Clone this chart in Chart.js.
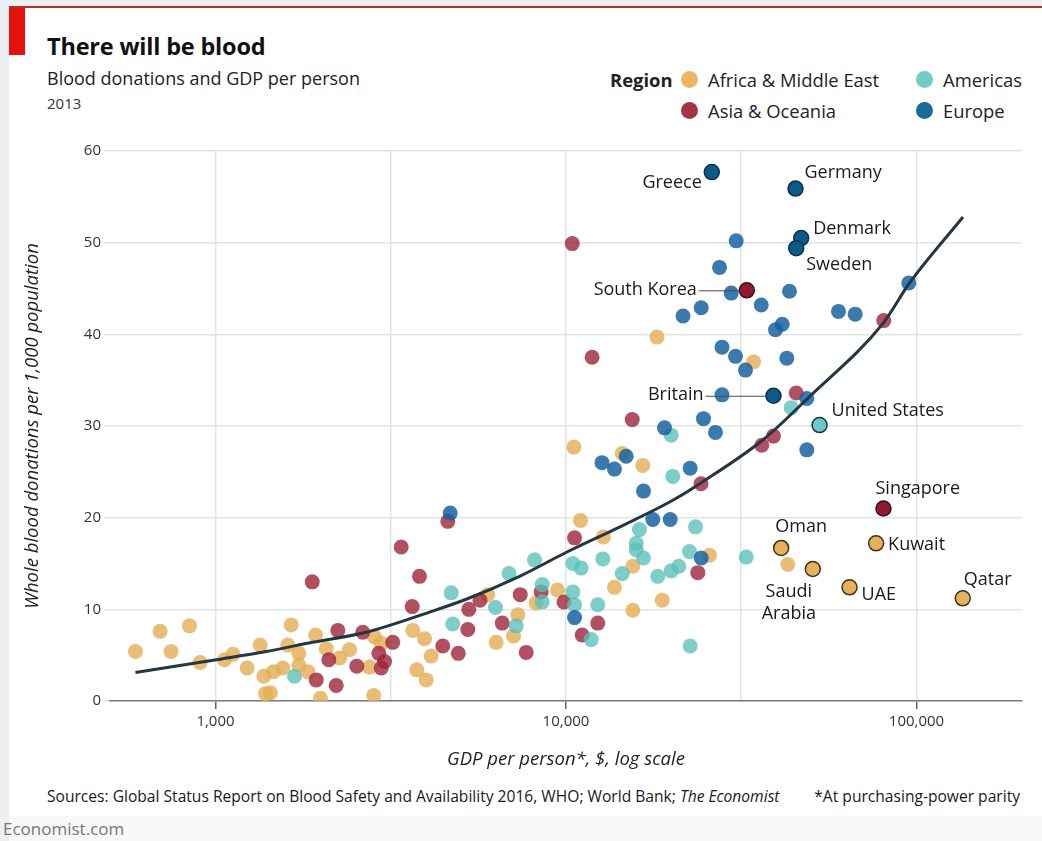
<!DOCTYPE html>
<html>
<head>
<meta charset="utf-8">
<script src="https://cdn.jsdelivr.net/npm/chart.js@4.4.1/dist/chart.umd.min.js"></script>
<style>
  html, body { margin:0; padding:0; }
  body { width:1042px; height:841px; background:#eceef2; font-family:"Open Sans", sans-serif; position:relative; overflow:hidden; color:#1a1a1a; }
  #card { position:absolute; left:9px; top:8px; width:1033px; height:808px; background:#fff; }
  #bottom { position:absolute; left:9px; top:816px; width:1033px; height:25px; background:#f8f8f8; }
  #topline { position:absolute; left:9px; top:6px; width:1033px; height:2px; background:#b3312c; }
  #redbox { position:absolute; left:9px; top:8px; width:16px; height:47px; background:#e3120b; }
  .txt { position:absolute; white-space:nowrap; }
  #title { left:47px; top:34px; font-size:23.5px; line-height:24px; font-weight:700; letter-spacing:-0.2px; color:#111; }
  #subtitle { left:47px; top:69px; font-size:18px; line-height:18px; color:#222; }
  #year { left:47px; top:96px; font-size:15px; line-height:15px; color:#333; }
  #legend .item { position:absolute; height:20px; display:flex; align-items:center; font-size:18.4px; color:#222; white-space:nowrap; }
  #legend .dot { width:17px; height:17px; border-radius:50%; margin-right:10px; display:inline-block; }
  #regionLbl { font-weight:700; }
  #sources { left:47px; top:786px; font-size:15.6px; line-height:20px; color:#1a1a1a; }
  #ppp { right:22px; top:786px; font-size:15.6px; line-height:20px; color:#1a1a1a; }
  #econ { left:3px; top:819px; font-size:17px; line-height:20px; color:#777; }
  #chart { position:absolute; left:0; top:0; }
</style>
</head>
<body>
<div id="card"></div>
<div id="bottom"></div>
<div id="topline"></div>
<div id="redbox"></div>
<div id="title" class="txt">There will be blood</div>
<div id="subtitle" class="txt">Blood donations and GDP per person</div>
<div id="year" class="txt">2013</div>
<div id="legend"></div>
<div id="sources" class="txt">Sources: Global Status Report on Blood Safety and Availability 2016, WHO; World Bank; <i>The Economist</i></div>
<div id="ppp" class="txt">*At purchasing-power parity</div>
<div id="econ" class="txt">Economist.com</div>
<canvas id="chart" width="1042" height="841"></canvas>
<script>
// ---------------- DATA ----------------
const regionNames = ['Africa & Middle East', 'Asia & Oceania', 'Americas', 'Europe'];

const africaGdp = [591,695,747,843,904,1061,1121,1231,1341,1373,1389,1435,1464,1556,1608,1644,1729,1729,1834,1930,1993,2070,2259,2412,2751,2842,2829,2971,3655,3948,3752,3992,4125,5982,6322,7287,7084,8222,9456,11000,12790,13750,15510,15510,18820,25670,10530,14470,16560,18180,34280,42940];
const africaDon = [5.4,7.6,5.4,8.2,4.2,4.5,5.1,3.6,6.1,2.7,0.8,0.9,3.2,3.6,6.1,8.3,5.2,3.9,3.2,7.2,0.3,5.7,4.7,5.6,3.7,7.0,0.6,6.3,7.7,6.8,3.4,2.3,4.9,11.6,6.4,9.4,7.1,10.7,12.1,19.7,17.9,12.4,14.7,9.9,11.0,15.9,27.7,27.0,25.7,39.7,37.0,14.9];

const asiaGdp = [4600,3387,1888,3819,3641,5281,5683,7403,8496,9870,2234,2632,3204,2924,3035,2971,2105,2530,1938,2210,4451,4928,5246,6577,7700,10580,12320,11120,23770,24280,11870,15450,10420,80660,45380,39080,36200];
const asiaDon = [19.6,16.8,13.0,13.6,10.3,10.0,11.0,11.6,11.9,10.8,7.7,7.5,6.4,5.2,4.3,3.6,4.5,3.8,2.3,1.7,6.0,5.2,7.8,8.5,5.3,17.8,8.5,7.2,14.0,23.7,37.5,30.7,49.9,41.5,33.6,28.9,27.9];

const amerGdp = [1680,4704,4754,6293,6877,7209,8131,8553,8553,10460,11050,12740,10460,10580,12320,11800,14470,16200,15860,15860,16640,18280,19960,20980,22510,23420,22610,19960,20170,32670,43910];
const amerDon = [2.7,11.8,8.4,10.2,13.9,8.2,15.4,12.7,10.8,15.0,14.5,15.5,11.9,10.5,10.5,6.7,13.9,18.7,17.2,16.5,15.6,13.6,14.2,14.7,16.3,19.0,6.0,29.0,24.5,15.7,32.0];

const euroGdp = [4673,16640,17690,19830,10580,24310,21570,24310,27870,30450,32520,27870,24680,26700,19100,12670,13750,14850,22610,30590,27420,29600,43420,36060,59900,66860,95060,41390,39600,42660,48640,48640];
const euroDon = [20.5,22.9,19.8,19.8,9.1,15.6,42.0,42.9,38.6,37.6,36.1,33.4,30.8,29.3,29.8,26.0,25.3,26.7,25.4,50.2,47.3,44.5,44.7,43.2,42.5,42.2,45.6,41.1,40.5,37.4,33.0,27.4];

const labelNames  = ['Greece','Germany','Denmark','Sweden','South Korea','Britain','United States','Singapore','Oman','Kuwait','Saudi Arabia','UAE','Qatar'];
const labelRegion = ['Europe','Europe','Europe','Europe','Asia & Oceania','Europe','Americas','Asia & Oceania','Africa & Middle East','Africa & Middle East','Africa & Middle East','Africa & Middle East','Africa & Middle East'];
const labelGdp    = [26060,45170,46880,45380,32800,39080,52900,80500,41110,76700,50600,64400,135500];
const labelDon    = [57.7,55.9,50.5,49.4,44.8,33.3,30.1,21.0,16.7,17.2,14.4,12.4,11.2];

const trendGdp = [591,1005,1395,1891,2690,4080,5190,7370,10000,14250,20170,24500,36500,49500,80260,95500,135700];
const trendDon = [3.1,4.5,5.4,6.4,7.5,9.7,11.1,13.6,16.2,19.0,21.9,23.9,28.5,33.2,41.2,45.6,52.8];

const xTickValues = [1000, 3162, 10000, 31623, 100000];
const xTickLabels = ['1,000', '', '10,000', '', '100,000'];
const yTickValues = [0, 10, 20, 30, 40, 50, 60];

// ---------------- STYLES ----------------
const regionFill = {
  'Africa & Middle East': 'rgba(228,172,84,0.80)',
  'Asia & Oceania': 'rgba(158,36,56,0.80)',
  'Americas': 'rgba(88,192,186,0.78)',
  'Europe': 'rgba(22,96,160,0.84)'
};
const legendColor = {
  'Africa & Middle East': '#e8b866',
  'Asia & Oceania': '#a73446',
  'Americas': '#74cbc6',
  'Europe': '#1b6a9c'
};
const highlightFill = {
  'Africa & Middle East': '#e5b25a',
  'Asia & Oceania': '#8e1c31',
  'Americas': '#6ccac4',
  'Europe': '#0c5a87'
};
const highlightBorder = {
  'Africa & Middle East': '#3a3122',
  'Asia & Oceania': '#3f0c16',
  'Americas': '#1c3535',
  'Europe': '#06344f'
};
// label placement (pixel offsets from the point)
const labelPlace = {
  'Greece':        {dx:-10, dy:11, align:'right'},
  'Germany':       {dx:9,   dy:-16, align:'left'},
  'Denmark':       {dx:12,  dy:-9, align:'left'},
  'Sweden':        {dx:10,  dy:17, align:'left'},
  'South Korea':   {dx:-50, dy:0, align:'right', lead:[-48,-8]},
  'Britain':       {dx:-70, dy:-1, align:'right', lead:[-68,-8]},
  'United States': {dx:12,  dy:-14, align:'left'},
  'Singapore':     {dx:-8,  dy:-20, align:'left'},
  'Oman':          {dx:20,  dy:-21, align:'center'},
  'Kuwait':        {dx:12,  dy:2, align:'left'},
  'Saudi Arabia':  {dx:-24, dy:23, align:'center', lines:['Saudi','Arabia'], lh:22},
  'UAE':           {dx:12,  dy:8, align:'left'},
  'Qatar':         {dx:1,   dy:-18, align:'left'}
};

// ---------------- LEGEND (HTML) ----------------
(function buildLegend(){
  const lg = document.getElementById('legend');
  const r = document.createElement('div');
  r.className = 'item'; r.id = 'regionLbl';
  r.style.left = '610px'; r.style.top = '69px';
  r.textContent = 'Region';
  lg.appendChild(r);
  const pos = {
    'Africa & Middle East': [681, 69],
    'Asia & Oceania': [681, 100],
    'Americas': [916, 69],
    'Europe': [916, 100]
  };
  regionNames.forEach(n => {
    const it = document.createElement('div');
    it.className = 'item';
    it.style.left = pos[n][0] + 'px';
    it.style.top = pos[n][1] + 'px';
    const d = document.createElement('span');
    d.className = 'dot'; d.style.background = legendColor[n];
    it.appendChild(d);
    it.appendChild(document.createTextNode(n));
    lg.appendChild(it);
  });
})();

// ---------------- CHART ----------------
Chart.defaults.font.family = '"Open Sans", sans-serif';
Chart.defaults.color = '#222';

const toPts = (xs, ys) => xs.map((x, i) => ({x: x, y: ys[i]}));

const labelPlugin = {
  id: 'countryLabels',
  afterDatasetsDraw(chart) {
    const {ctx, scales: {x, y}} = chart;
    ctx.save();
    ctx.font = '18px "Open Sans", sans-serif';
    ctx.fillStyle = '#1a1a1a';
    ctx.textBaseline = 'middle';
    labelNames.forEach((name, i) => {
      const px = x.getPixelForValue(labelGdp[i]);
      const py = y.getPixelForValue(labelDon[i]);
      const p = labelPlace[name];
      if (p.lead) {
        ctx.strokeStyle = '#4a4a4a';
        ctx.lineWidth = 1;
        ctx.beginPath();
        ctx.moveTo(px + p.lead[0], py + 0.5);
        ctx.lineTo(px + p.lead[1], py + 0.5);
        ctx.stroke();
      }
      ctx.textAlign = p.align;
      const lines = p.lines || [name];
      lines.forEach((t, k) => {
        ctx.fillText(t, px + p.dx, py + p.dy + k * (p.lh || 0));
      });
    });
    ctx.restore();
  }
};

const labeledDataset = {
  label: 'labeled',
  data: toPts(labelGdp, labelDon),
  pointRadius: 7.5,
  pointBackgroundColor: labelRegion.map(r => highlightFill[r]),
  pointBorderColor: labelRegion.map(r => highlightBorder[r]),
  pointBorderWidth: 1.5,
  order: 0
};

const regionDataset = (name, xs, ys, ord) => ({
  label: name,
  data: toPts(xs, ys),
  pointRadius: 7.5,
  pointBorderWidth: 0,
  pointBackgroundColor: regionFill[name],
  order: ord
});

new Chart(document.getElementById('chart'), {
  type: 'scatter',
  data: {
    datasets: [
      labeledDataset,
      {
        label: 'trend',
        data: toPts(trendGdp, trendDon),
        showLine: true,
        borderColor: '#243543',
        borderWidth: 3,
        pointRadius: 0,
        cubicInterpolationMode: 'monotone',
        fill: false,
        order: 1
      },
      regionDataset('Europe', euroGdp, euroDon, 2),
      regionDataset('Americas', amerGdp, amerDon, 3),
      regionDataset('Asia & Oceania', asiaGdp, asiaDon, 4),
      regionDataset('Africa & Middle East', africaGdp, africaDon, 5)
    ]
  },
  options: {
    responsive: false,
    animation: false,
    events: [],
    layout: { padding: { left: 0, top: 151, right: 20, bottom: 60 } },
    plugins: { legend: { display: false }, tooltip: { enabled: false }, title: { display: false } },
    scales: {
      x: {
        type: 'logarithmic',
        min: 500,
        max: 200000,
        afterBuildTicks: s => { s.ticks = xTickValues.map(v => ({value: v})); },
        afterFit: s => { s.height = 80; },
        ticks: {
          autoSkip: false,
          maxRotation: 0,
          padding: 4,
          color: '#333',
          font: { size: 15 },
          callback: (v, i) => xTickLabels[i]
        },
        grid: {
          color: '#e3e3e3',
          lineWidth: 1.5,
          tickLength: 8,
          tickWidth: 1.5,
          tickColor: c => (xTickLabels[c.index] ? '#666' : 'rgba(0,0,0,0)')
        },
        border: { display: true, color: '#7d7d7d', width: 1.5 },
        title: {
          display: true,
          text: 'GDP per person*, $, log scale',
          font: { size: 18.5, style: 'italic' },
          color: '#222',
          padding: { top: 0, bottom: 10 }
        }
      },
      y: {
        type: 'linear',
        min: 0,
        max: 60,
        afterBuildTicks: s => { s.ticks = yTickValues.map(v => ({value: v})); },
        afterFit: s => { s.width = 110; },
        ticks: { padding: 3, color: '#333', font: { size: 15 } },
        grid: { color: '#e3e3e3', lineWidth: 1.5, tickLength: 6, tickColor: '#e3e3e3' },
        border: { display: false },
        title: {
          display: true,
          text: 'Whole blood donations per 1,000 population',
          font: { size: 18.5, style: 'italic' },
          color: '#222',
          padding: { top: 22, bottom: 0 }
        }
      }
    }
  },
  plugins: [labelPlugin]
});
</script>
</body>
</html>
